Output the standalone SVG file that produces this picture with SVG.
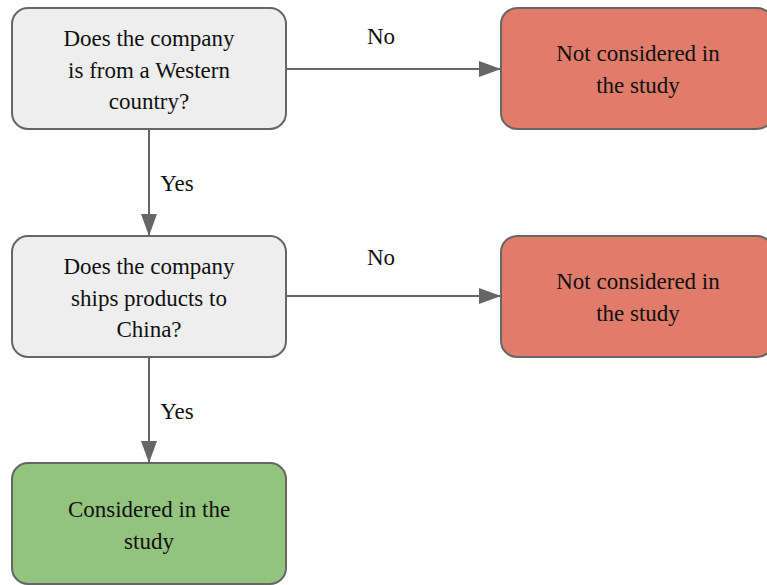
<svg xmlns="http://www.w3.org/2000/svg" width="767" height="585" viewBox="0 0 767 585">
  <style>
    .box { stroke: #666666; stroke-width: 2; }
    .q { fill: #eeeeee; }
    .no { fill: #e07c69; }
    .yes { fill: #93c47d; }
    .edge { stroke: #666666; stroke-width: 2; fill: none; marker-end: url(#arrow); }
  </style>
  <defs>
    <marker id="arrow" markerWidth="22" markerHeight="18" viewBox="0 0 22 18" refX="21" refY="9" orient="auto" markerUnits="userSpaceOnUse">
      <path d="M0,1 L22,9 L0,17 Z" fill="#666666"/>
    </marker>
  </defs>
  <rect width="767" height="585" fill="#ffffff"/>

  <g font-family="Liberation Serif, Times New Roman, serif" font-size="23" fill="#111111" text-anchor="middle">
    <g id="connectors">
      <path class="edge" d="M286,69 H500"/>
      <path class="edge" d="M149,129 V235"/>
      <path class="edge" d="M286,296 H500"/>
      <path class="edge" d="M149,357 V462"/>
      <text x="381" y="44">No</text>
      <text x="177" y="191">Yes</text>
      <text x="381" y="265">No</text>
      <text x="177" y="419">Yes</text>
    </g>

    <g id="q-western">
      <rect class="box q" x="12" y="8" width="274" height="121" rx="16"/>
      <text x="149" y="46">Does the company</text>
      <text x="149" y="78">is from a Western</text>
      <text x="149" y="109">country?</text>
    </g>

    <g id="not-considered-1">
      <rect class="box no" x="501" y="8" width="272" height="121" rx="16"/>
      <text x="638" y="61">Not considered in</text>
      <text x="638" y="93">the study</text>
    </g>

    <g id="q-china">
      <rect class="box q" x="12" y="236" width="274" height="121" rx="16"/>
      <text x="149" y="274">Does the company</text>
      <text x="149" y="306">ships products to</text>
      <text x="149" y="337">China?</text>
    </g>

    <g id="not-considered-2">
      <rect class="box no" x="501" y="236" width="272" height="121" rx="16"/>
      <text x="638" y="289">Not considered in</text>
      <text x="638" y="321">the study</text>
    </g>

    <g id="considered">
      <rect class="box yes" x="12" y="463" width="274" height="121" rx="16"/>
      <text x="149" y="517">Considered in the</text>
      <text x="149" y="549">study</text>
    </g>
  </g>
</svg>
